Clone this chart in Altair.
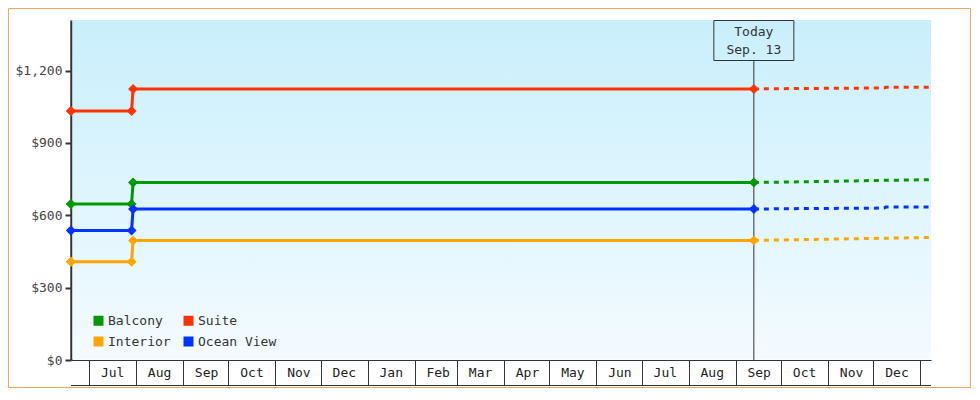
import altair as alt
import pandas as pd

# ---- data ----
# order chosen so that the 2-column legend reads: Balcony, Suite / Interior, Ocean View
series = ["Balcony", "Interior", "Suite", "Ocean View"]
colors = ["#009900", "#ffa500", "#ff3300", "#0033ff"]

hist_dates = ["2017-06-19", "2017-07-29", "2017-07-30", "2018-09-13"]
balcony_hist = [647, 647, 736, 736]
suite_hist = [1033, 1033, 1124, 1124]
interior_hist = [407, 407, 496, 496]
ocean_hist = [537, 537, 626, 626]

fc_dates = ["2018-09-13", "2018-10-14", "2018-12-08", "2018-12-09", "2019-01-08"]
balcony_fc = [736, 739, 745, 745, 748]
suite_fc = [1124, 1126, 1128, 1131, 1131]
interior_fc = [496, 499, 505, 505, 508]
ocean_fc = [626, 628, 630, 634, 634]

today_date = ["2018-09-13"]
today_label = ["Today", "Sep. 13"]

y_ticks = [0, 300, 600, 900, 1200]

FONT = "DejaVu Sans Mono"

hist_vals = {"Balcony": balcony_hist, "Suite": suite_hist,
             "Interior": interior_hist, "Ocean View": ocean_hist}
fc_vals = {"Balcony": balcony_fc, "Suite": suite_fc,
           "Interior": interior_fc, "Ocean View": ocean_fc}

hist = pd.DataFrame([{"series": s, "date": d, "price": v}
                     for s in series for d, v in zip(hist_dates, hist_vals[s])])
fc = pd.DataFrame([{"series": s, "date": d, "price": v}
                   for s in series for d, v in zip(fc_dates, fc_vals[s])])
today = pd.DataFrame({"date": today_date, "label": ["\n".join(today_label)]})
one = pd.DataFrame({"a": [0]})

x_scale = alt.Scale(type="utc",
                    domain=[alt.DateTime(year=2017, month=6, date=19, utc=True),
                            alt.DateTime(year=2019, month=1, date=8, utc=True)])
y_scale = alt.Scale(domain=[0, 1410], nice=False)
c_scale = alt.Scale(domain=series, range=colors)

x_axis = alt.Axis(title=None, grid=False, tickCount={"interval": "month", "step": 1},
                  domainColor="#333", domainWidth=1, tickColor="#333", tickWidth=1,
                  tickSize=25, labelOffset=23, labelPadding=-13, labelBaseline="middle",
                  labelAlign="center", labelFlush=False, labelOverlap=False,
                  labelFont=FONT, labelFontSize=13, labelColor="#222",
                  labelExpr="utcyear(datum.value) > 2018 ? '' : utcFormat(datum.value, '%b')")
y_axis = alt.Axis(title=None, grid=False, values=y_ticks, format="$,d",
                  domainColor="#333", domainWidth=2.5, tickColor="#333", tickWidth=2,
                  tickSize=6, labelPadding=3, labelFont=FONT, labelFontSize=13,
                  labelColor="#444")

legend = alt.Legend(title=None, orient="none", legendX=21, legendY=294,
                    columns=2, symbolType="square", symbolSize=100,
                    symbolStrokeWidth=0, symbolOpacity=1,
                    labelFont=FONT, labelFontSize=13, labelColor="#333",
                    columnPadding=11, rowPadding=7, labelOffset=3, padding=0)

grad = alt.LinearGradient(gradient="linear",
                          stops=[alt.GradientStop(color="#c9effc", offset=0),
                                 alt.GradientStop(color="#f4fbff", offset=1)],
                          x1=0, x2=0, y1=0, y2=1)

bg = alt.Chart(one).mark_rect(fill=grad).encode(
    x=alt.value(1.3), x2=alt.value(860), y=alt.value(0), y2=alt.value(339.5))

border = alt.Chart(one).mark_rect(fill="transparent", stroke="#e8a865", strokeWidth=1).encode(
    x=alt.value(-62.5), x2=alt.value(899.5), y=alt.value(-11.5), y2=alt.value(367.5))

bottom_rule = alt.Chart(one).mark_rule(color="#333", strokeWidth=1).encode(
    x=alt.value(0), x2=alt.value(860), y=alt.value(365.5))

points = alt.Chart(hist).mark_point(shape="diamond", filled=True, size=100, opacity=1).encode(
    x=alt.X("date:T", scale=x_scale, axis=x_axis),
    y=alt.Y("price:Q", scale=y_scale, axis=y_axis),
    color=alt.Color("series:N", scale=c_scale, legend=legend),
)

hist_lines = alt.Chart(hist).mark_line(strokeWidth=3).encode(
    x=alt.X("date:T", scale=x_scale),
    y=alt.Y("price:Q", scale=y_scale),
    color=alt.Color("series:N", scale=c_scale),
)

fc_lines = alt.Chart(fc).mark_line(strokeWidth=3, strokeDash=[5, 5]).encode(
    x=alt.X("date:T", scale=x_scale),
    y=alt.Y("price:Q", scale=y_scale),
    color=alt.Color("series:N", scale=c_scale),
)

today_rule = alt.Chart(today).mark_rule(color="#333", strokeWidth=1).encode(
    x=alt.X("date:T", scale=x_scale), y=alt.value(40.5), y2=alt.value(340))

today_box = alt.Chart(today).mark_rect(fill="transparent", stroke="#333", strokeWidth=1,
                                       xOffset=-40, x2Offset=40).encode(
    x=alt.X("date:T", scale=x_scale), x2="date:T", y=alt.value(0.5), y2=alt.value(40.5))

today_text = alt.Chart(today).mark_text(font=FONT, fontSize=13, color="#333",
                                        lineBreak="\n", lineHeight=18,
                                        align="center", baseline="middle").encode(
    x=alt.X("date:T", scale=x_scale), y=alt.value(12), text="label:N")

chart = alt.layer(points, bg, border, bottom_rule, today_rule, today_box, today_text,
                  hist_lines, fc_lines, points).properties(
    width=860, height=340,
    padding={"left": 63, "top": 12, "right": 40, "bottom": 28},
    autosize=alt.AutoSizeParams(type="none"),
    background="white",
).configure_view(stroke="transparent")

chart.save("out.html", embed_options={"renderer": "svg", "actions": False})
